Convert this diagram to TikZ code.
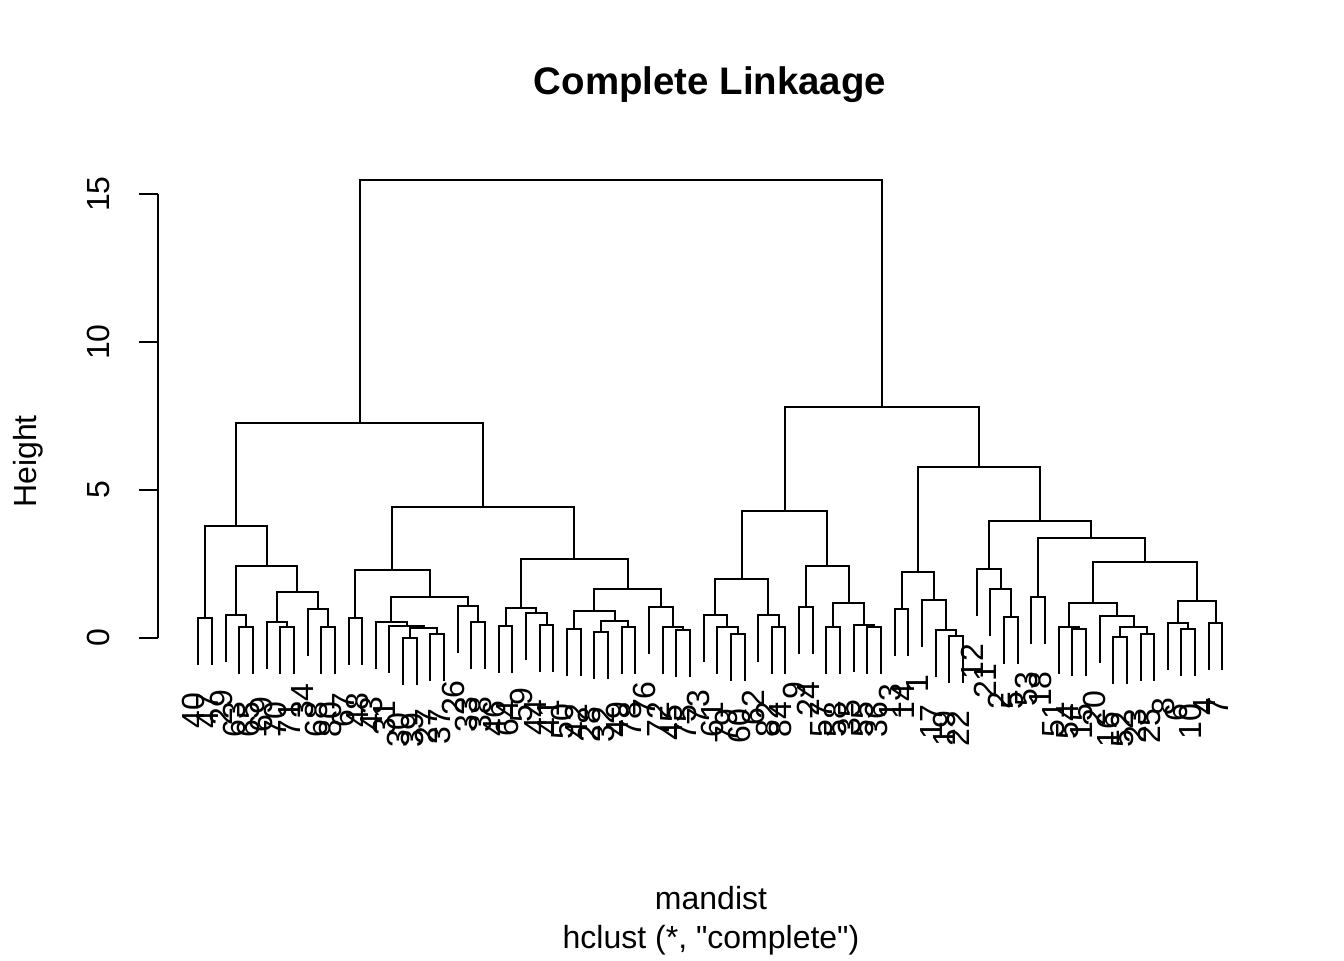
\documentclass[tikz,border=0pt]{standalone}
\usepackage{fontspec}
\setmainfont{Liberation Sans}
\newfontfamily\plainsans{Liberation Sans}[Ligatures=TeXOff]
\usetikzlibrary{calc}
\newcommand\mrg[4]{%
  \path let \p1=(#2), \p2=(#3) in ({0.5*\x1+0.5*\x2},{-0.375*#4*1pt}) coordinate (#1);
  \draw[tree] (#2) |- (#1) -| (#3);
}
\begin{document}
\begin{tikzpicture}[x=0.375pt,y=-0.375pt,
  tree/.style={line width=0.75pt,line cap=rect},
  lbl/.style={rotate=90,anchor=east,inner sep=0pt,font=\fontsize{12}{14}\selectfont},
  axlbl/.style={rotate=90,anchor=base,inner sep=0pt,font=\fontsize{12}{14}\selectfont}]
\useasboundingbox[fill=white] (0,0) rectangle (1344,960);
% title and axis titles
\node[anchor=base,inner sep=0pt,font=\bfseries\fontsize{14.4}{17}\selectfont] (title) at (710,94.7) {Complete Linkaage};
\node[anchor=base,inner sep=0pt,font=\fontsize{12}{14}\selectfont] (xlab) at (711,909.5) {mandist};
\node[anchor=base,inner sep=0pt,font=\plainsans\fontsize{12}{14}\selectfont] (sub) at (711,948) {hclust (*, "complete")};
\node[axlbl] (ylab) at (36.5,461.5) {Height};
% y axis
\coordinate (ax0) at (158,638);
\coordinate (ax15) at (158,194);
\draw[tree,line cap=butt] (ax0) -- (ax15);
\foreach \v in {0,5,10,15} {
  \coordinate (tk\v) at (158,{638-29.6*\v});
  \draw[tree,line cap=butt] (tk\v) -- ++(-19.2,0);
  \node[axlbl] (tl\v) at (109.5,{638-29.6*\v}) {\v};
}
% leaves: index / parent height (px) / label
\foreach \i/\py/\t in {
 0/618.3/40, 1/618.3/47, 2/615/29, 3/627.3/63, 4/627.3/65, 5/622.3/69, 6/627.3/70, 7/627.3/71,
 8/608.7/34, 9/627.3/68, 10/627.3/80, 11/617.7/67, 12/617.7/48, 13/621.7/43, 14/625.7/31,
 15/637.7/30, 16/637.7/39, 17/634.3/27, 18/634.3/37, 19/605.7/26, 20/622.3/33, 21/622.3/38,
 22/626/46, 23/626/64, 24/612.7/59, 25/625/44, 26/625/41, 27/629.3/50, 28/629.3/42,
 29/632/28, 30/632/32, 31/627.3/49, 32/627.3/78, 33/606.7/76, 34/627.3/72, 35/630.3/45, 36/630.3/75,
 37/615.3/73, 38/627.3/61, 39/633.7/79, 40/633.7/60, 41/615.3/62, 42/627.3/82, 43/627.3/84,
 44/606.7/9, 45/606.7/24, 46/627.3/57, 47/627.3/58, 48/625/35, 49/627.3/55, 50/627.3/36,
 51/609.3/13, 52/609.3/14, 53/599.7/1, 54/629.7/17, 55/636/19, 56/636/22,
 57/569/12, 58/588.7/21, 59/616.7/2, 60/616.7/5, 61/596.7/53, 62/596.7/18,
 63/627.3/51, 64/629.3/54, 65/629.3/15, 66/616/20, 67/637.3/16, 68/637.3/52,
 69/633.7/23, 70/633.7/25, 71/623.3/8, 72/629.3/6, 73/629.3/10, 74/623.3/4, 75/623.3/7} {
  \coordinate (l\i) at ({198.3+13.655*\i},{\py+46});
  \node[lbl] (t\i) at ([shift={(-4.6,28)}]l\i) {\t};
}
% left cluster
\mrg{a1}{l0}{l1}{618.3}
\mrg{a2}{l3}{l4}{627.3}
\mrg{a3}{l2}{a2}{615}
\mrg{a4}{l6}{l7}{627.3}
\mrg{a5}{l5}{a4}{622.3}
\mrg{a6}{l9}{l10}{627.3}
\mrg{a7}{l8}{a6}{608.7}
\mrg{a8}{a5}{a7}{592.3}
\mrg{a9}{a3}{a8}{566}
\mrg{a10}{a1}{a9}{526}
\mrg{b1}{l11}{l12}{617.7}
\mrg{b2}{l15}{l16}{637.7}
\mrg{b3}{l17}{l18}{634.3}
\mrg{b4}{b2}{b3}{627.7}
\mrg{b5}{l14}{b4}{625.7}
\mrg{b6}{l13}{b5}{621.7}
\mrg{b7}{l20}{l21}{622.3}
\mrg{b8}{l19}{b7}{605.7}
\mrg{b9}{b6}{b8}{596.7}
\mrg{b10}{b1}{b9}{570}
\mrg{c1}{l22}{l23}{626}
\mrg{c2}{l25}{l26}{625}
\mrg{c3}{l24}{c2}{612.7}
\mrg{c4}{c1}{c3}{608}
\mrg{c5}{l27}{l28}{629.3}
\mrg{c6}{l29}{l30}{632}
\mrg{c7}{l31}{l32}{627.3}
\mrg{c8}{c6}{c7}{620.7}
\mrg{c9}{c5}{c8}{611}
\mrg{c10}{l35}{l36}{630.3}
\mrg{c11}{l34}{c10}{627.3}
\mrg{c12}{l33}{c11}{606.7}
\mrg{c13}{c9}{c12}{588.7}
\mrg{c14}{c4}{c13}{559.3}
\mrg{c15}{b10}{c14}{507}
\mrg{lft}{a10}{c15}{423}
% right cluster
\mrg{d1}{l39}{l40}{633.7}
\mrg{d2}{l38}{d1}{627.3}
\mrg{d3}{l37}{d2}{615.3}
\mrg{d4}{l42}{l43}{627.3}
\mrg{d5}{l41}{d4}{615.3}
\mrg{d6}{d3}{d5}{579.3}
\mrg{d7}{l44}{l45}{606.7}
\mrg{d8}{l46}{l47}{627.3}
\mrg{d9}{l49}{l50}{627.3}
\mrg{d10}{l48}{d9}{625}
\mrg{d11}{d8}{d10}{603}
\mrg{d12}{d7}{d11}{566}
\mrg{d13}{d6}{d12}{511}
\mrg{e1}{l51}{l52}{609.3}
\mrg{e2}{l55}{l56}{636}
\mrg{e3}{l54}{e2}{629.7}
\mrg{e4}{l53}{e3}{599.7}
\mrg{e5}{e1}{e4}{572}
\mrg{f1}{l59}{l60}{616.7}
\mrg{f2}{l58}{f1}{588.7}
\mrg{f3}{l57}{f2}{569}
\mrg{f4}{l61}{l62}{596.7}
\mrg{f5}{l64}{l65}{629.3}
\mrg{f6}{l63}{f5}{627.3}
\mrg{f7}{l67}{l68}{637.3}
\mrg{f8}{l69}{l70}{633.7}
\mrg{f9}{f7}{f8}{627.3}
\mrg{f10}{l66}{f9}{616}
\mrg{f11}{f6}{f10}{603}
\mrg{f12}{l72}{l73}{629.3}
\mrg{f13}{l71}{f12}{623.3}
\mrg{f14}{l74}{l75}{623.3}
\mrg{f15}{f13}{f14}{601}
\mrg{f16}{f11}{f15}{562.3}
\mrg{f17}{f4}{f16}{538}
\mrg{f18}{f3}{f17}{521}
\mrg{g1}{e5}{f18}{467}
\mrg{rgt}{d13}{g1}{407}
\mrg{root}{lft}{rgt}{180}
\end{tikzpicture}
\end{document}
